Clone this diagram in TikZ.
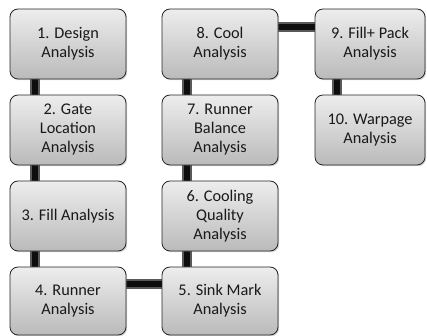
\documentclass[tikz,border=0pt]{standalone}
\usepackage{fontspec}
\setmainfont{Carlito}
\usetikzlibrary{shadows,backgrounds}
\tikzset{
  box/.style={draw=black!85, line width=0.8pt, rounded corners=8pt,
    top color=black!7, bottom color=black!27,
    drop shadow={shadow xshift=1.2pt, shadow yshift=-1.2pt, opacity=0.35},
    minimum width=116pt, minimum height=70pt, align=center,
    text=black!90, font=\fontsize{16.3}{19}\selectfont, inner sep=2pt},
  connout/.style={line width=10pt, black!65},
  connin/.style={line width=5.5pt, black!95},
}
\begin{document}
\begin{tikzpicture}[x=1pt,y=1pt]
\useasboundingbox (0,0) rectangle (427,336);
\node[box] (n1) at (68,292) {1. Design\\Analysis};
\node[box] (n2) at (68,206) {2. Gate\\Location\\Analysis};
\node[box] (n3) at (68,120) {3. Fill Analysis};
\node[box, minimum height=68pt] (n4) at (68,35) {4. Runner\\Analysis};
\node[box, minimum height=68pt] (n5) at (220,35) {5. Sink Mark\\Analysis};
\node[box] (n6) at (220,120) {6. Cooling\\Quality\\Analysis};
\node[box] (n7) at (220,206) {7. Runner\\Balance\\Analysis};
\node[box] (n8) at (220,292) {8. Cool\\Analysis};
\node[box, minimum width=110pt] (n9) at (370,292) {9. Fill+ Pack\\Analysis};
\node[box, minimum width=110pt] (n10) at (370,206) {10. Warpage\\Analysis};
\begin{pgfonlayer}{background}
\foreach \a/\b in {n1/n2,n2/n3,n3/n4,n8/n7,n7/n6,n6/n5,n9/n10}{
  \draw[connout] ([xshift=-33pt]\a.center) -- ([xshift=-33pt]\b.center);
  \draw[connin] ([xshift=-33pt]\a.center) -- ([xshift=-33pt]\b.center);
}
\draw[connout] ([yshift=17pt]n8.center) -- ([yshift=17pt]n9.center);
\draw[connin] ([yshift=17pt]n8.center) -- ([yshift=17pt]n9.center);
\draw[connout] ([yshift=17pt]n4.center) -- ([yshift=17pt]n5.center);
\draw[connin] ([yshift=17pt]n4.center) -- ([yshift=17pt]n5.center);
\end{pgfonlayer}
\end{tikzpicture}
\end{document}
